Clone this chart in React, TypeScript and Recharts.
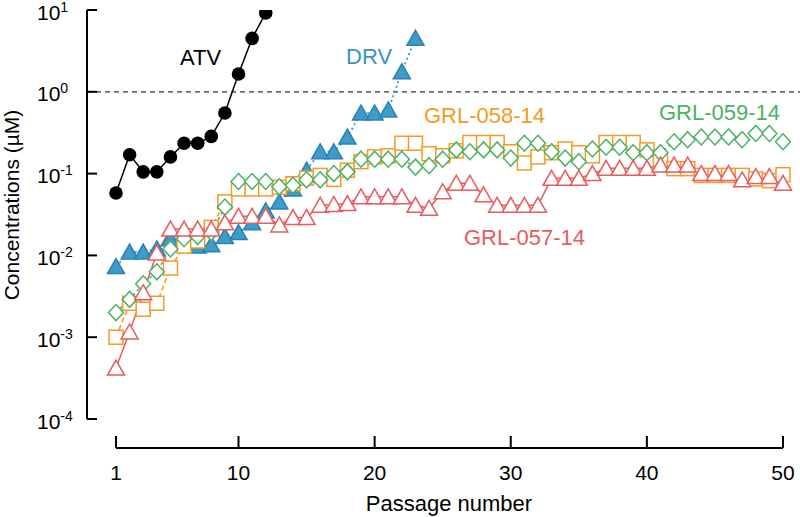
import { LineChart, Line, XAxis, YAxis, ReferenceLine } from "recharts";

const passages = [
  1, 2, 3, 4, 5, 6, 7, 8, 9, 10, 11, 12, 13, 14, 15, 16, 17, 18, 19, 20, 21, 22, 23, 24, 25,
  26, 27, 28, 29, 30, 31, 32, 33, 34, 35, 36, 37, 38, 39, 40, 41, 42, 43, 44, 45, 46, 47, 48, 49, 50,
];

const atv = [0.058, 0.17, 0.105, 0.105, 0.16, 0.235, 0.235, 0.285, 0.55, 1.65, 4.5, 9.2];

const drv = [
  0.0073, 0.011, 0.011, 0.012, 0.016, 0.014, 0.013, 0.0135, 0.017, 0.019, 0.025, 0.035, 0.045,
  0.065, 0.11, 0.185, 0.185, 0.28, 0.55, 0.55, 0.6, 1.76, 4.5,
];

const grl058 = [
  0.001, 0.0026, 0.0022, 0.0026, 0.007, 0.013, 0.015, 0.022, 0.045, 0.065, 0.065, 0.065, 0.068,
  0.075, 0.088, 0.095, 0.085, 0.11, 0.14, 0.16, 0.165, 0.235, 0.235, 0.175, 0.165, 0.19, 0.24,
  0.24, 0.24, 0.185, 0.135, 0.16, 0.18, 0.2, 0.18, 0.165, 0.24, 0.24, 0.24, 0.195, 0.14, 0.115,
  0.115, 0.095, 0.095, 0.095, 0.095, 0.086, 0.082, 0.097,
];

const grl059 = [
  0.002, 0.0029, 0.0045, 0.0063, 0.012, 0.016, 0.017, 0.019, 0.039, 0.08, 0.08, 0.08, 0.069,
  0.072, 0.084, 0.084, 0.1, 0.105, 0.15, 0.15, 0.15, 0.15, 0.12, 0.125, 0.15, 0.195, 0.185,
  0.195, 0.195, 0.155, 0.235, 0.235, 0.185, 0.155, 0.14, 0.2, 0.21, 0.21, 0.18, 0.18, 0.18,
  0.245, 0.26, 0.28, 0.28, 0.28, 0.26, 0.31, 0.31, 0.245,
];

const grl057 = [
  0.00042, 0.00116, 0.0035, 0.0107, 0.021, 0.021, 0.021, 0.021, 0.025, 0.03, 0.03, 0.03, 0.0236,
  0.029, 0.029, 0.041, 0.042, 0.043, 0.052, 0.052, 0.052, 0.052, 0.041, 0.0376, 0.06, 0.076,
  0.076, 0.055, 0.041, 0.041, 0.041, 0.041, 0.0875, 0.0875, 0.0875, 0.1, 0.116, 0.116, 0.116,
  0.116, 0.127, 0.127, 0.127, 0.1, 0.1, 0.1, 0.084, 0.092, 0.092, 0.076,
];

const xTicks = [1, 10, 20, 30, 40, 50];
const yTicks = [1e-4, 1e-3, 1e-2, 1e-1, 1, 10];

const rows = passages.map((p, i) => ({
  passage: p,
  atv: atv[i],
  drv: drv[i],
  grl058: grl058[i],
  grl059: grl059[i],
  grl057: grl057[i],
}));

// the axes sit apart from the data area, so both domains reach past the data
const PX_PER_PASSAGE = (783 - 116) / 49;
const PX_PER_DECADE = 81.8;
const AXIS_GAP = 29;
const X_LO = 1 - AXIS_GAP / PX_PER_PASSAGE;
const X_HI = 50 + 17 / PX_PER_PASSAGE;
const Y_LO = Math.pow(10, -4 - AXIS_GAP / PX_PER_DECADE);

const FONT = '"Liberation Sans", Arial, sans-serif';
const BLUE = "#3d9cc9";
const ORANGE = "#f59a23";
const GREEN = "#4cb163";
const RED = "#e95b5e";

function XTick(props: any) {
  const { x, y, payload } = props;
  return (
    <g>
      <line x1={x} x2={x} y1={y} y2={y - 12} stroke="#000" strokeWidth={2} />
      <text x={x} y={y + 32} textAnchor="middle" fontSize={21} fontFamily={FONT} fill="#000">
        {payload.value}
      </text>
    </g>
  );
}

function YTick(props: any) {
  const { x, y, payload } = props;
  const exp = Math.round(Math.log10(payload.value));
  return (
    <g>
      <line x1={x} x2={x + 10} y1={y} y2={y} stroke="#000" strokeWidth={2} />
      <text x={x - 50} y={y + 9.5} fontSize={21} fontFamily={FONT} fill="#000">
        10
        <tspan fontSize={14} dy={-8}>
          {String(exp)}
        </tspan>
      </text>
    </g>
  );
}

const circleDot = (props: any) => {
  const { cx, cy, index } = props;
  if (cx == null || cy == null) return <g key={`a${index}`} />;
  return <circle key={`a${index}`} cx={cx} cy={cy} r={6.8} fill="#000" />;
};

const triangleDot = (fill: string, stroke: string, tag: string) => (props: any) => {
  const { cx, cy, index } = props;
  if (cx == null || cy == null) return <g key={`${tag}${index}`} />;
  const pts = `${cx},${cy - 8} ${cx + 8.5},${cy + 7} ${cx - 8.5},${cy + 7}`;
  return (
    <polygon key={`${tag}${index}`} points={pts} fill={fill} stroke={stroke} strokeWidth={1.5} />
  );
};

const squareDot = (props: any) => {
  const { cx, cy, index } = props;
  if (cx == null || cy == null) return <g key={`s${index}`} />;
  return (
    <rect
      key={`s${index}`}
      x={cx - 7}
      y={cy - 7}
      width={14}
      height={14}
      fill="#fff"
      stroke={ORANGE}
      strokeWidth={1.5}
    />
  );
};

const diamondDot = (props: any) => {
  const { cx, cy, index } = props;
  if (cx == null || cy == null) return <g key={`d${index}`} />;
  const pts = `${cx},${cy - 8} ${cx + 7.5},${cy} ${cx},${cy + 8} ${cx - 7.5},${cy}`;
  return <polygon key={`d${index}`} points={pts} fill="#fff" stroke={GREEN} strokeWidth={1.5} />;
};

export default function App() {
  return (
    <div style={{ position: "absolute", left: 0, top: 0, width: 800, height: 517, background: "#fff" }}>
      <LineChart width={800} height={517} data={rows} margin={{ top: 10, right: 0, bottom: 0, left: 0 }}>
        <XAxis
          type="number"
          dataKey="passage"
          domain={[X_LO, X_HI]}
          ticks={xTicks}
          interval={0}
          allowDataOverflow
          axisLine={false}
          tickLine={false}
          tickSize={0}
          tickMargin={0}
          height={69}
          tick={<XTick />}
        />
        <YAxis
          type="number"
          scale="log"
          domain={[Y_LO, 10]}
          ticks={yTicks}
          interval={0}
          allowDataOverflow
          axisLine={false}
          tickLine={false}
          tickSize={0}
          tickMargin={0}
          width={87}
          tick={<YTick />}
        />
        <ReferenceLine y={1} stroke="#333" strokeWidth={1.3} strokeDasharray="5 4" />
        <ReferenceLine
          segment={[
            { x: X_LO, y: 1e-4 },
            { x: X_LO, y: 10 },
          ]}
          stroke="#000"
          strokeWidth={2}
          ifOverflow="visible"
        />
        <ReferenceLine
          segment={[
            { x: 1, y: Y_LO },
            { x: 50, y: Y_LO },
          ]}
          stroke="#000"
          strokeWidth={2}
          ifOverflow="visible"
        />
        <Line
          dataKey="atv"
          stroke="#000"
          strokeWidth={1.5}
          dot={circleDot}
          isAnimationActive={false}
        />
        <Line
          dataKey="drv"
          stroke={BLUE}
          strokeWidth={1.8}
          strokeDasharray="2 3"
          dot={triangleDot(BLUE, "#2b82b0", "b")}
          isAnimationActive={false}
        />
        <Line
          dataKey="grl058"
          stroke={ORANGE}
          strokeWidth={1.5}
          strokeDasharray="5 3"
          dot={squareDot}
          isAnimationActive={false}
        />
        <Line
          dataKey="grl059"
          stroke={GREEN}
          strokeWidth={1.5}
          strokeDasharray="3 3"
          dot={diamondDot}
          isAnimationActive={false}
        />
        <Line
          dataKey="grl057"
          stroke={RED}
          strokeWidth={1.5}
          dot={triangleDot("#fff", RED, "r")}
          isAnimationActive={false}
        />
      </LineChart>
      <svg
        width={800}
        height={517}
        style={{ position: "absolute", left: 0, top: 0, pointerEvents: "none" }}
        fontFamily={FONT}
      >
        <text x={180} y={65} fontSize={22} fill="#000">ATV</text>
        <text x={346} y={64} fontSize={22} fill="#3a93c0">DRV</text>
        <text x={424} y={123} fontSize={22} fill={ORANGE}>GRL-058-14</text>
        <text x={659} y={120} fontSize={22} fill={GREEN}>GRL-059-14</text>
        <text x={464} y={245} fontSize={22} fill={RED}>GRL-057-14</text>
        <text x={449} y={511} fontSize={22} textAnchor="middle" fill="#000">Passage number</text>
        <text
          x={19}
          y={205}
          fontSize={21}
          textAnchor="middle"
          transform="rotate(-90 19 205)"
          fill="#000"
        >
          Concentrations (µM)
        </text>
      </svg>
    </div>
  );
}
